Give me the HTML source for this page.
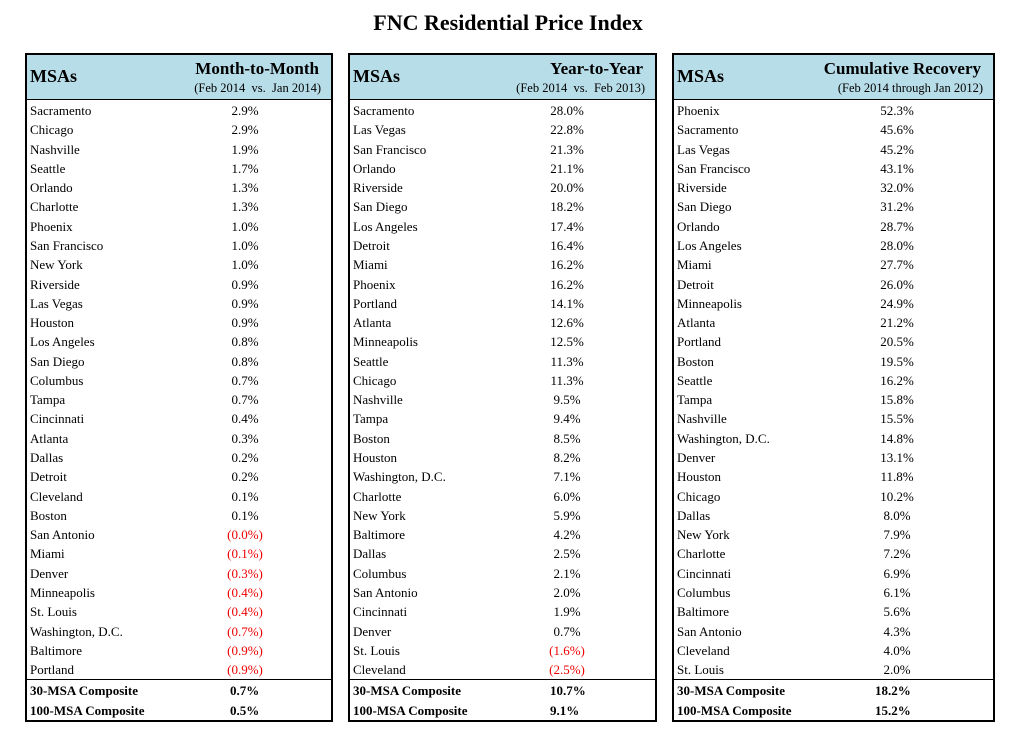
<!DOCTYPE html>
<html><head><meta charset="utf-8"><style>
body{margin:0;width:1016px;height:740px;background:#fff;font-family:"Liberation Serif",serif;position:relative;overflow:hidden}
.title{position:absolute;top:10px;left:0;width:1016px;text-align:center;font-weight:bold;font-size:22px}
.t{position:absolute;top:53px;height:665px;border:2px solid #000;box-sizing:content-box}
.hd{position:absolute;left:0;right:0;top:0;height:44px;background:#b7dde8;border-bottom:1.5px solid #000}
.msa{position:absolute;left:3px;top:11px;font-weight:bold;font-size:18px}
.h1{position:absolute;right:12px;top:4px;font-weight:bold;font-size:17px}
.h2{position:absolute;right:10px;top:26px;font-size:12.5px}
.r{position:absolute;left:3px;right:0;height:19px;font-size:13px;line-height:19px}
.r .v{position:absolute;text-align:center;width:80px}
.neg{color:#e00}
.sep{position:absolute;left:0;right:0;top:624px;border-top:1.5px solid #000}
.b{font-weight:bold}
.b .v{text-align:left}
</style></head><body>
<div class="title">FNC Residential Price Index</div>
<div id="c"></div>
<script>
const T=[
{x:25,w:304,vc:215,bc:200,h1:"Month-to-Month",h2:"(Feb 2014&nbsp; vs.&nbsp; Jan 2014)",
rows:"Sacramento|2.9%;Chicago|2.9%;Nashville|1.9%;Seattle|1.7%;Orlando|1.3%;Charlotte|1.3%;Phoenix|1.0%;San Francisco|1.0%;New York|1.0%;Riverside|0.9%;Las Vegas|0.9%;Houston|0.9%;Los Angeles|0.8%;San Diego|0.8%;Columbus|0.7%;Tampa|0.7%;Cincinnati|0.4%;Atlanta|0.3%;Dallas|0.2%;Detroit|0.2%;Cleveland|0.1%;Boston|0.1%;San Antonio|(0.0%);Miami|(0.1%);Denver|(0.3%);Minneapolis|(0.4%);St. Louis|(0.4%);Washington, D.C.|(0.7%);Baltimore|(0.9%);Portland|(0.9%)",c:["0.7%","0.5%"]},
{x:348,w:305,vc:214,bc:197,h1:"Year-to-Year",h2:"(Feb 2014&nbsp; vs.&nbsp; Feb 2013)",
rows:"Sacramento|28.0%;Las Vegas|22.8%;San Francisco|21.3%;Orlando|21.1%;Riverside|20.0%;San Diego|18.2%;Los Angeles|17.4%;Detroit|16.4%;Miami|16.2%;Phoenix|16.2%;Portland|14.1%;Atlanta|12.6%;Minneapolis|12.5%;Seattle|11.3%;Chicago|11.3%;Nashville|9.5%;Tampa|9.4%;Boston|8.5%;Houston|8.2%;Washington, D.C.|7.1%;Charlotte|6.0%;New York|5.9%;Baltimore|4.2%;Dallas|2.5%;Columbus|2.1%;San Antonio|2.0%;Cincinnati|1.9%;Denver|0.7%;St. Louis|(1.6%);Cleveland|(2.5%)",c:["10.7%","9.1%"]},
{x:672,w:319,vc:220,bc:198,h1:"Cumulative Recovery",h2:"(Feb 2014 through Jan 2012)",
rows:"Phoenix|52.3%;Sacramento|45.6%;Las Vegas|45.2%;San Francisco|43.1%;Riverside|32.0%;San Diego|31.2%;Orlando|28.7%;Los Angeles|28.0%;Miami|27.7%;Detroit|26.0%;Minneapolis|24.9%;Atlanta|21.2%;Portland|20.5%;Boston|19.5%;Seattle|16.2%;Tampa|15.8%;Nashville|15.5%;Washington, D.C.|14.8%;Denver|13.1%;Houston|11.8%;Chicago|10.2%;Dallas|8.0%;New York|7.9%;Charlotte|7.2%;Cincinnati|6.9%;Columbus|6.1%;Baltimore|5.6%;San Antonio|4.3%;Cleveland|4.0%;St. Louis|2.0%",c:["18.2%","15.2%"]}];
let h="";
for(const t of T){
h+=`<div class="t" style="left:${t.x}px;width:${t.w}px"><div class="hd"><div class="msa">MSAs</div><div class="h1">${t.h1}</div><div class="h2">${t.h2}</div></div>`;
t.rows.split(";").forEach((s,i)=>{const [n,v]=s.split("|");const y=46+i*19.28;
h+=`<div class="r" style="top:${y}px">${n}<span class="v ${v[0]=="("?"neg":""}" style="left:${t.vc-40}px">${v}</span></div>`;});
h+=`<div class="sep"></div>`;
["30-MSA Composite","100-MSA Composite"].forEach((n,i)=>{h+=`<div class="r b" style="top:${626+i*19.5}px">${n}<span class="v" style="left:${t.bc}px">${t.c[i]}</span></div>`;});
h+=`</div>`;}
document.getElementById("c").innerHTML=h;
</script>
</body></html>
